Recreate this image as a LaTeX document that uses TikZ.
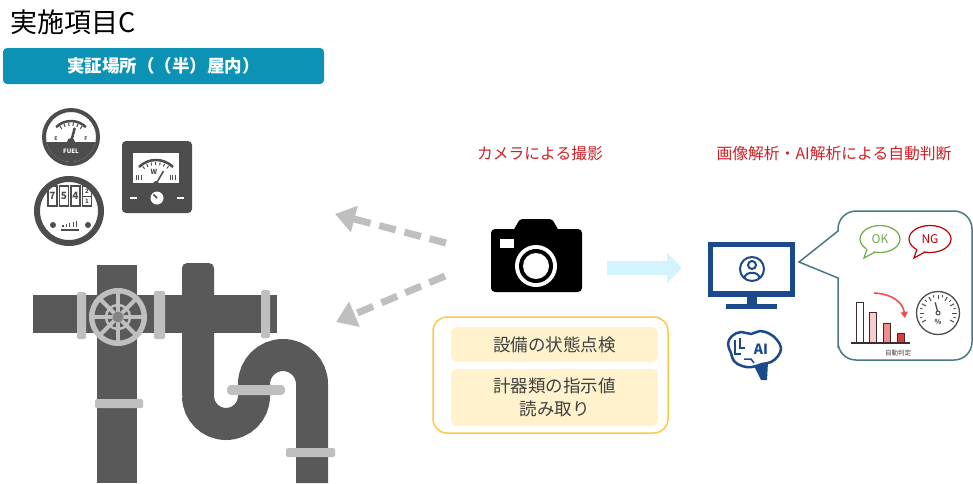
\documentclass[tikz,border=0pt]{standalone}
\usepackage{fontspec}
\setmainfont{Noto Sans CJK JP}
\usetikzlibrary{arrows.meta}
\definecolor{pipegray}{RGB}{89,89,89}
\definecolor{clampgray}{RGB}{191,191,191}
\definecolor{gaugegray}{RGB}{77,77,77}
\definecolor{bannerteal}{RGB}{12,146,180}
\definecolor{capred}{RGB}{204,32,39}
\definecolor{boxgold}{RGB}{255,200,70}
\definecolor{boxcream}{RGB}{255,242,204}
\definecolor{textgray}{RGB}{64,64,64}
\definecolor{flowcyan}{RGB}{212,244,253}
\definecolor{navy}{RGB}{28,72,140}
\definecolor{bubbleline}{RGB}{72,122,132}
\definecolor{okgreen}{RGB}{112,173,71}
\definecolor{ngred}{RGB}{192,0,0}
\definecolor{barline}{RGB}{60,45,45}
\definecolor{downred}{RGB}{238,80,78}
\tikzset{
  plain/.style = {inner sep = 0pt},
  banner/.style = {plain, fill = bannerteal, rounded corners = 4pt, minimum width = 321pt, minimum height = 36pt, text = white, font = \fontsize{17.5}{20}\selectfont\bfseries},
  caption/.style = {plain, text = capred, font = \fontsize{15.8}{18}\selectfont},
  goldbox/.style = {draw = boxgold, line width = 1.5pt, rounded corners = 14pt, minimum width = 235pt, minimum height = 116pt},
  creambox/.style = {plain, fill = boxcream, rounded corners = 6pt, minimum width = 207pt, text = textgray, align = center, font = \fontsize{17.5}{23}\selectfont},
  clamp/.style = {fill = clampgray, rounded corners = 1.5pt},
  shot/.style = {draw = clampgray, line width = 7pt, dash pattern = on 17pt off 9pt, -{Triangle[length = 20pt, width = 26pt]}},
  flow/.style = {draw = flowcyan, line width = 14pt, -{Triangle[length = 15pt, width = 30pt]}}
}

\begin{document}
\begin{tikzpicture}[x = 1pt, y = -1pt]
\useasboundingbox (0,0) rectangle (973,483);

\node [plain, anchor = west, font = \fontsize{27}{30}\selectfont] (title) at (10,22) {実施項目C};
\node [banner] (place) at (163.5,66) {実証場所（（半）屋内）};

% fuel gauge
\begin{scope}[shift = {(71,142)}, yscale = -1]
\draw [gaugegray, line width = 4pt] (0,5) circle (27);
\begin{scope}
\clip (0,5) circle (25);
\fill [gaugegray] (-30,0) rectangle (30,-30);
\end{scope}
\node [plain, white, font = \fontsize{6}{6}\selectfont\bfseries] at (0,-9) {FUEL};
\draw [gaugegray, line width = 2.5pt] (45:21) arc (45:135:21);
\foreach \a in {55,69,...,125} \draw [gaugegray, line width = 1pt] (\a:16) -- (\a:19.5);
\node [plain, gaugegray, font = \fontsize{5}{5}\selectfont\bfseries] at (-15,3) {E};
\node [plain, gaugegray, font = \fontsize{5}{5}\selectfont\bfseries] at (15,3) {F};
\draw [gaugegray, line width = 2.5pt, line cap = round] (0,0) -- (75:14);
\fill [gaugegray] (0,0) circle (4);
\end{scope}

% counter meter
\begin{scope}[shift = {(69,211)}, yscale = -1]
\draw [gaugegray, line width = 6pt] (0,0) circle (32);
\foreach \i/\d in {0/7,1/5,2/4}
{
\draw [gaugegray, line width = 1.5pt] (-21+\i*11.5,5) rectangle ++(9,20);
\node [plain, gaugegray, font = \fontsize{10}{10}\selectfont\bfseries] at (-16.5+\i*11.5,15) {\d};
}
\draw [gaugegray, line width = 1.5pt] (13.5,5) rectangle ++(9,20);
\draw [gaugegray, line width = 0.8pt] (13.5,15) -- ++(9,0);
\node [plain, gaugegray, font = \fontsize{6}{6}\selectfont\bfseries] at (18,20) {2};
\node [plain, gaugegray, font = \fontsize{6}{6}\selectfont\bfseries] at (18,10) {1};
\fill [gaugegray] (-16,-14) circle (3);
\fill [gaugegray] (19,-14) circle (3);
\foreach \i/\h in {0/2,1/3,2/4,3/5,4/6}
\draw [gaugegray, line width = 1.3pt] (-6+\i*3.4,-16) -- ++(0,\h);
\draw [gaugegray, line width = 1.3pt] (-8,-19) -- (10,-19);
\end{scope}

% watt meter
\fill [gaugegray, rounded corners = 4pt] (122,141) rectangle (192,213);
\fill [white] (133,153) rectangle (179,183);
\begin{scope}[shift = {(156,184)}, yscale = -1]
\draw [gaugegray, line width = 2.5pt] (45:24) arc (45:135:24);
\foreach \a in {55,67,...,127} \draw [gaugegray, line width = 1pt] (\a:19) -- (\a:22);
\foreach \x in {-20,-17.5,-15,14,16.5,19} \draw [gaugegray, line width = 1pt] (\x,4) -- (\x,9);
\node [plain, gaugegray, font = \fontsize{7}{7}\selectfont\bfseries] at (-2,12) {W};
\draw [gaugegray, line width = 1.5pt] (0,0) -- (60:15);
\fill [gaugegray] (0,0) circle (3);
\end{scope}
\fill [white] (157,198) circle (6.5);
\draw [gaugegray, line width = 1.5pt] (157,198) -- ++(-3.5,-3.5);
\draw [white, line width = 2pt] (130,198) -- (137,198);
\draw [white, line width = 2pt] (177,198) -- (184,198);

% pipes
\fill [pipegray] (33,295) rectangle (277,333);
\fill [pipegray] (97,265) rectangle (137,483);
\fill [pipegray, rounded corners = 5pt] (182,263) rectangle (214,400);
\draw [pipegray, line width = 32pt] (198,396) arc (180:0:28) -- (254,384) arc (180:360:29) -- (312,483);
\fill [clamp] (77,292) rectangle (86,339);
\fill [clamp] (154,291) rectangle (165,339);
\fill [clamp] (261,290) rectangle (270,338);
\fill [clamp] (95,399) rectangle (143,408);
\fill [clamp, rounded corners = 4pt] (227,385) rectangle (285,395);
\fill [clamp] (286,448) rectangle (335,457);
\fill [clampgray] (118,317) circle (29);
\fill [pipegray] (118,317) circle (23.5);
\foreach \a in {0,45,...,315} \draw [clampgray, line width = 4pt] (118,317) -- ++(\a:24);
\draw [clampgray, line width = 2.5pt] (118,317) circle (12);
\fill [pipegray!75] (118,317) circle (5.5);

% camera
\fill [black, rounded corners = 4pt] (491,229) rectangle (582,292);
\fill [black, rounded corners = 2pt] (513,231) -- (520,219) -- (552,219) -- (559,231) -- cycle;
\fill [white] (500,239) rectangle (514,248);
\fill [white] (536,266) circle (21);
\fill [black] (536,266) circle (17);
\fill [white] (536,266) circle (13);

\node [caption] (shotlabel) at (540,154) {カメラによる撮影};
\node [caption] (ailabel) at (834,154) {画像解析・AI解析による自動判断};

\coordinate (shotA) at (446,243);
\coordinate (meterA) at (335,214);
\coordinate (shotB) at (445,276);
\coordinate (pipeA) at (336,322);
\draw [shot] (shotA) -- (meterA);
\draw [shot] (shotB) -- (pipeA);

\node [goldbox] (tasks) at (550.5,375) {};
\node [creambox, minimum height = 35pt] (task1) at (554.5,344.5) {設備の状態点検};
\node [creambox, minimum height = 57pt] (task2) at (554.5,397.5) {計器類の指示値\\読み取り};

\coordinate (flowA) at (607,268);
\coordinate (flowB) at (682,268);
\draw [flow] (flowA) -- (flowB);

% monitor
\fill [navy] (708,242) rectangle (795,297);
\fill [white] (713,247) rectangle (790,291);
\fill [navy] (747,296) rectangle (757,305);
\fill [navy] (726,304) rectangle (777,309);
\draw [navy, line width = 2pt] (752,269) circle (12);
\draw [navy, line width = 2pt] (752,265) circle (4);
\draw [navy, line width = 2pt] (744.5,278) .. controls (745,271) and (759,271) .. (759.5,278);

% brain
\fill [navy] (752,362) -- (768,362) -- (767,380) -- (761,380) -- cycle;
\draw [navy, line width = 2.5pt, fill = white] plot [smooth cycle, tension = 0.7] coordinates {(731,353) (728,344) (732,336) (741,332) (751,334) (760,331) (770,334) (777,340) (781,348) (778,356) (771,362) (762,364) (752,367) (742,366) (734,361)};
\draw [navy, line width = 1.5pt] (735,340) -- (735,354) -- (741,354);
\draw [navy, line width = 1.5pt] (740,338) -- (740,348) -- (745,348);
\draw [navy, line width = 1.5pt] (744,359) -- (751,359) -- (754,363);
\node [plain, navy, font = \fontsize{14}{14}\selectfont\bfseries] (ai) at (761,349) {AI};

% result bubble
\draw [bubbleline, line width = 1.5pt, fill = white] (799,262) -- (838,231) -- (838,229) [rounded corners = 18pt] -- (838,211) -- (972,211) -- (972,360) -- (838,360) -- (838,330) [sharp corners] -- (838,278) -- cycle;
\draw [okgreen, line width = 1.2pt, fill = white] (880,239) ellipse (20 and 13.5);
\fill [white] (867,247) -- (864,258) -- (876,250) -- cycle;
\draw [okgreen, line width = 1.2pt] (867,249) -- (864,258) -- (875,252);
\node [plain, okgreen, font = \fontsize{12}{12}\selectfont] (ok) at (880,239) {OK};
\draw [ngred, line width = 1.2pt, fill = white] (930,239) ellipse (21 and 13.5);
\fill [white] (917,247) -- (914,258) -- (926,250) -- cycle;
\draw [ngred, line width = 1.2pt] (917,249) -- (914,258) -- (925,252);
\node [plain, ngred, font = \fontsize{12}{12}\selectfont] (ng) at (930,239) {NG};

\draw [barline, line width = 1pt, fill = white] (856,343) rectangle (863,302);
\draw [barline, line width = 1pt, fill = {rgb,255:red,248;green,204;blue,204}] (869,343) rectangle (876,312);
\draw [barline, line width = 1pt, fill = {rgb,255:red,240;green,140;blue,140}] (883,343) rectangle (890,323);
\draw [barline, line width = 1pt, fill = {rgb,255:red,220;green,60;blue,60}] (897,343) rectangle (904,333);
\draw [barline, line width = 1.3pt] (851,343) -- (910,343);
\draw [downred, line width = 1.6pt, -{Triangle[length = 6pt, width = 7pt]}] (874,293) .. controls (893,294) and (903,303) .. (905,318);

\begin{scope}[shift = {(938,313)}, yscale = -1]
\draw [gaugegray, line width = 1.3pt] (0,0) circle (21.5);
\foreach \a in {-30,0,...,210} \draw [gaugegray, line width = 1pt] (\a:14) -- (\a:18.5);
\foreach \a in {-15,15,...,195} \draw [gaugegray, line width = 0.8pt] (\a:16) -- (\a:18.5);
\draw [gaugegray, line width = 1.3pt] (0,0) -- (105:11);
\draw [gaugegray, line width = 1pt, fill = white] (0,0) circle (2);
\node [plain, gaugegray, font = \fontsize{7}{7}\selectfont\bfseries] at (0,-9) {\%};
\end{scope}
\node [plain, textgray, font = \fontsize{6.5}{7}\selectfont] (judge) at (898,353) {自動判定};
\end{tikzpicture}
\end{document}
